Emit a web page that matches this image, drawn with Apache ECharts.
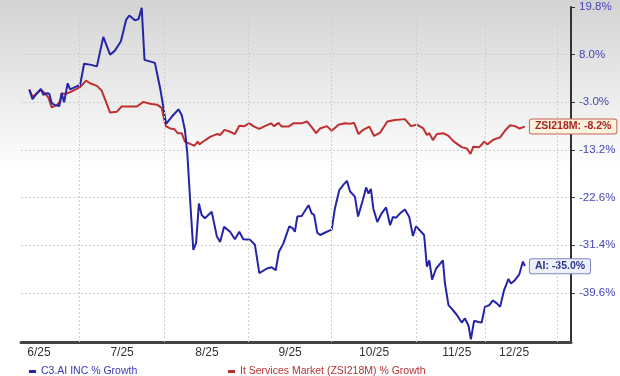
<!DOCTYPE html>
<html>
<head>
<meta charset="utf-8">
<script src="https://cdn.jsdelivr.net/npm/echarts@6/dist/echarts.min.js"></script>
<style>
  html, body { margin: 0; padding: 0; background: #fff; }
  #main { width: 620px; height: 376px; }
</style>
</head>
<body>
<div id="main"></div>
<script>
// right axis tick labels, bottom to top (the axis is not linear)
var tickValues = [-39.6, -31.4, -22.6, -13.2, -3.0, 8.0, 19.8];

// x axis: month labels and grid lines, in trading-day units from the first point
var monthLabels = ['6/25', '7/25', '8/25', '9/25', '10/25', '11/25', '12/25'];
var monthLabelDays = [2.4, 23.2, 44.4, 65.2, 86.2, 106.9, 121.2];
var gridDays = [12.4, 33.7, 54.7, 75.4, 96.7, 113.9, 131.9];

// C3.AI INC % growth
var aiDays = [0, 0.8, 1.9, 2.9, 3.5, 4.4, 5.0, 5.6, 6.4, 7.5, 8.1, 8.7, 9.6, 10.2, 11.4, 12.7,
  13.7, 15.2, 16.9, 18.5, 20.2, 21.4, 22.9, 24.2, 25.0, 26.4, 27.3, 28.1, 28.8, 31.4, 32.7, 33.2,
  34.2, 35.6, 37.3, 38.1, 38.9, 39.5, 40.2, 41.0, 41.7, 42.4, 43.1, 43.9, 45.6, 46.9, 47.7, 48.7,
  50.2, 51.4, 52.5, 53.5, 55.2, 56.4, 57.5, 59.4, 60.6, 61.6, 62.4, 63.5, 65.0, 65.9, 66.4, 67.0,
  68.1, 69.8, 70.6, 71.2, 72.0, 72.7, 74.4, 75.6, 76.4, 77.5, 78.5, 79.4, 80.2, 81.4, 82.2, 83.4,
  84.2, 84.8, 85.4, 86.0, 87.0, 88.1, 89.2, 90.2, 90.9, 91.7, 92.7, 93.9, 95.0, 95.9, 96.7, 98.7,
  99.4, 100.0, 100.7, 101.7, 103.4, 103.9, 104.8, 105.6, 106.9, 108.1, 108.9, 109.8, 110.4, 111.2,
  112.3, 113.1, 113.9, 115.0, 115.9, 116.9, 117.7, 118.7, 119.8, 120.4, 121.4, 122.5, 123.4, 123.9];
var aiGrowth = [-0.1, -2.3, -0.9, 0.1, -1.3, -0.9, -1.0, -3.2, -3.6, -3.8, -0.9, -3.0, 1.4, 0.0, 0.5, 1.0,
  5.9, 5.7, 5.3, 12.4, 8.0, 9.0, 11.3, 16.6, 17.7, 16.5, 16.8, 19.6, 6.8, 6.1, 0.3, -2.4,
  -7.6, -6.1, -4.5, -5.7, -8.9, -13.8, -23.0, -32.2, -31.0, -23.7, -25.8, -26.4, -25.2, -29.8, -30.8, -28.0,
  -28.9, -30.3, -28.9, -30.3, -30.4, -31.3, -36.2, -35.4, -35.2, -35.7, -32.5, -31.1, -27.9, -28.3, -28.9, -26.1,
  -26.0, -24.0, -25.5, -25.8, -29.1, -29.5, -28.9, -28.5, -24.6, -21.1, -20.1, -19.3, -21.4, -22.4, -26.1, -23.0,
  -20.6, -21.8, -20.9, -24.6, -27.1, -25.5, -24.4, -27.7, -26.2, -26.3, -25.5, -24.8, -26.2, -29.7, -27.9, -29.5,
  -35.1, -34.0, -37.3, -35.4, -34.0, -37.9, -41.7, -42.3, -43.4, -44.7, -44.0, -45.2, -47.6, -44.4,
  -44.6, -44.7, -42.0, -41.7, -40.9, -41.4, -42.0, -39.1, -37.2, -38.0, -37.4, -36.4, -34.2, -35.0];

// It Services Market (ZSI218M) % growth
var zsiDays = [0, 0.8, 1.9, 2.9, 3.9, 4.8, 5.6, 6.9, 7.7, 8.1, 9.0, 10.6, 12.7, 14.2, 15.2, 16.9,
  18.1, 20.2, 21.9, 23.1, 24.8, 26.9, 28.5, 30.2, 31.9, 33.1, 34.1, 35.2, 36.2, 37.1, 38.1, 38.9,
  40.2, 41.3, 42.1, 42.5, 43.5, 45.2, 46.9, 47.7, 48.8, 50.2, 51.4, 52.5, 53.7, 55.0, 56.2, 57.5,
  58.9, 60.4, 61.2, 62.3, 63.1, 64.8, 66.0, 66.4, 68.1, 69.4, 70.6, 71.7, 72.7, 74.4, 75.6, 77.3,
  78.9, 80.2, 81.2, 82.3, 83.5, 85.0, 86.2, 87.7, 89.5, 90.0, 91.4, 93.9, 95.4, 96.9, 98.5, 99.4,
  100.0, 100.9, 101.9, 103.5, 104.8, 106.0, 108.1, 109.4, 110.3, 111.0, 112.5, 113.8, 114.5, 116.0,
  117.7, 118.9, 120.2, 121.4, 122.5, 123.9];
var zsiGrowth = [0.0, -1.7, -1.0, -0.1, -0.9, -2.0, -4.1, -3.6, -2.8, -0.9, -1.1, -0.5, 0.5, 2.0, 1.4, 0.8,
  -0.3, -5.2, -5.0, -3.9, -3.9, -3.9, -2.9, -3.3, -3.5, -4.2, -8.1, -8.6, -8.7, -9.6, -9.6, -11.4,
  -11.9, -12.3, -11.4, -12.0, -11.4, -10.4, -9.8, -10.0, -8.9, -9.3, -9.8, -8.0, -8.1, -7.5, -8.2, -8.7,
  -8.1, -7.5, -8.1, -7.4, -8.2, -8.2, -7.5, -7.1, -7.5, -7.1, -8.3, -9.6, -8.6, -8.1, -9.1, -7.8,
  -7.5, -7.6, -7.4, -9.8, -8.9, -8.2, -10.2, -9.5, -7.1, -7.5, -6.8, -6.6, -8.1, -7.8, -8.6, -10.0,
  -9.6, -11.1, -9.8, -9.6, -10.2, -11.3, -12.6, -12.9, -14.0, -12.5, -12.6, -11.4, -12.0, -11.0,
  -10.5, -9.1, -7.9, -8.1, -8.6, -8.2];

// place a growth value on the axis: evenly spaced ticks, linear between them
function toAxis(v) {
  var k = 0;
  while (k < tickValues.length - 2 && v > tickValues[k + 1]) k++;
  return k + (v - tickValues[k]) / (tickValues[k + 1] - tickValues[k]);
}
function pairs(days, vals) {
  return days.map(function (d, i) { return [d, toAxis(vals[i]), vals[i]]; });
}
function nearestIndex(arr, v) {
  var best = 0;
  for (var i = 1; i < arr.length; i++) if (Math.abs(arr[i] - v) < Math.abs(arr[best] - v)) best = i;
  return best;
}

var aiColor = '#2424a8';
var zsiColor = '#bf2f2f';
var font = "'Liberation Sans', Arial, sans-serif";
var gridLine = { color: '#cfcfcf', type: [2, 2], width: 1 };

var chart = echarts.init(document.getElementById('main'));
chart.setOption({
  animation: false,
  backgroundColor: new echarts.graphic.LinearGradient(0, 0, 0, 1, [
    { offset: 0, color: '#d3d3d3' },
    { offset: 0.46, color: '#ffffff' },
    { offset: 1, color: '#ffffff' }
  ]),
  grid: { left: 21, right: 49, top: 7, bottom: 34, outerBoundsMode: 'none' },
  legend: [
    {
      left: 24, top: 361, itemWidth: 7, itemHeight: 3, icon: 'rect',
      data: [{ name: 'C3.AI INC % Growth', textStyle: { color: '#3838b0' } }],
      textStyle: { fontFamily: font, fontSize: 10.5 }
    },
    {
      left: 223, top: 361, itemWidth: 7, itemHeight: 3, icon: 'rect',
      data: [{ name: 'It Services Market (ZSI218M) % Growth', textStyle: { color: '#b83232' } }],
      textStyle: { fontFamily: font, fontSize: 10.5 }
    }
  ],
  xAxis: {
    type: 'value',
    min: (21 - 29.3) / 4,
    max: (571 - 29.3) / 4,
    axisLine: { show: true, onZero: false, lineStyle: { color: '#444', width: 3 } },
    axisTick: { show: false },
    splitLine: { show: false },
    axisLabel: {
      customValues: monthLabelDays,
      margin: 5,
      color: '#333',
      fontFamily: font,
      fontSize: 12,
      formatter: function (v) { return monthLabels[nearestIndex(monthLabelDays, v)]; }
    }
  },
  yAxis: {
    type: 'value',
    position: 'right',
    min: -(341.7 - 292.7) / 47.57,
    max: 6,
    axisLine: { show: true, onZero: false, lineStyle: { color: '#333', width: 2 } },
    axisTick: { show: true, length: 4, customValues: [0, 1, 2, 3, 4, 5, 6], lineStyle: { color: '#333', width: 1 } },
    splitLine: { show: true, lineStyle: gridLine },
    axisLabel: {
      customValues: [0, 1, 2, 3, 4, 5, 6],
      margin: 8,
      color: '#4545b8',
      fontFamily: font,
      fontSize: 11.5,
      formatter: function (v) { return tickValues[Math.round(v)].toFixed(1) + '%'; }
    }
  },
  series: [
    {
      // vertical month grid lines
      name: 'grid',
      type: 'line',
      data: [],
      z: 1,
      silent: true,
      markLine: {
        silent: true,
        symbol: 'none',
        label: { show: false },
        lineStyle: gridLine,
        data: gridDays.map(function (d) { return { xAxis: d }; })
      }
    },
    {
      name: 'It Services Market (ZSI218M) % Growth',
      type: 'line',
      data: pairs(zsiDays, zsiGrowth),
      showSymbol: false,
      lineStyle: { color: zsiColor, width: 2 },
      itemStyle: { color: zsiColor },
      endLabel: {
        show: true,
        distance: 5,
        formatter: function (p) { return 'ZSI218M: ' + p.value[2].toFixed(1) + '%'; },
        color: '#a52525',
        fontFamily: font,
        fontSize: 10.5,
        fontWeight: 'bold',
        backgroundColor: '#fcf3dc',
        borderColor: '#c86060',
        borderWidth: 1,
        borderRadius: 2,
        padding: [2, 5, 1, 5]
      }
    },
    {
      name: 'C3.AI INC % Growth',
      type: 'line',
      data: pairs(aiDays, aiGrowth),
      showSymbol: false,
      lineStyle: { color: aiColor, width: 2 },
      itemStyle: { color: aiColor },
      endLabel: {
        show: true,
        distance: 5,
        formatter: function (p) { return 'AI: ' + p.value[2].toFixed(1) + '%'; },
        color: '#2a3590',
        fontFamily: font,
        fontSize: 10.5,
        fontWeight: 'bold',
        backgroundColor: '#eef0fa',
        borderColor: '#7c86c6',
        borderWidth: 1,
        borderRadius: 2,
        padding: [2, 5, 1, 5]
      }
    }
  ]
});
</script>
</body>
</html>
